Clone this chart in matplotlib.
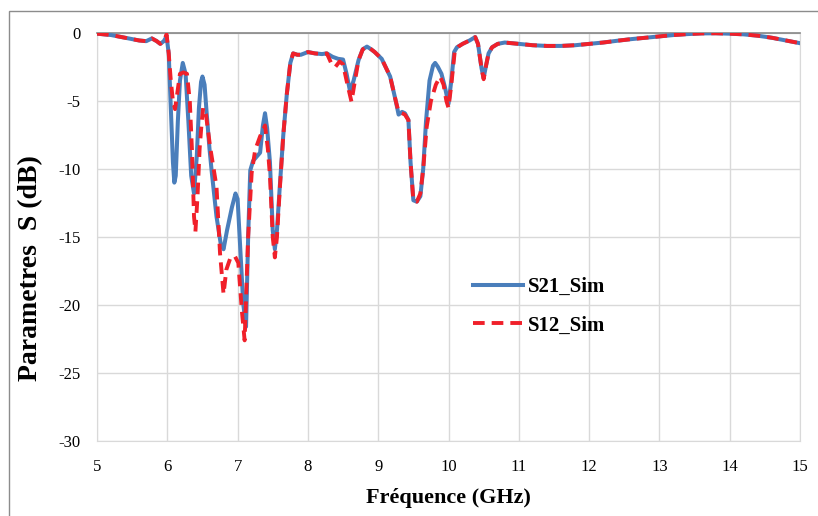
import matplotlib
matplotlib.use("Agg")
import matplotlib.pyplot as plt
from matplotlib.patches import Rectangle

plt.rcParams['font.family'] = ['Liberation Serif', 'DejaVu Serif']
plt.rcParams['axes.unicode_minus'] = False

# S21 simulated (frequency GHz, dB)
f_s21 = [5.0, 5.2, 5.4, 5.6, 5.7, 5.78, 5.85, 5.9, 5.95, 5.99,
         6.02, 6.05, 6.08, 6.1, 6.12, 6.15, 6.18, 6.22, 6.26, 6.3,
         6.34, 6.38, 6.42, 6.45, 6.48, 6.5, 6.53, 6.56, 6.6, 6.63,
         6.7, 6.76, 6.8, 6.85, 6.92, 6.97, 7.0, 7.04, 7.08, 7.12,
         7.15, 7.18, 7.22, 7.27, 7.32, 7.36, 7.39, 7.42, 7.46, 7.5,
         7.53, 7.56, 7.6, 7.65, 7.7, 7.75, 7.79, 7.85, 7.9, 8.0,
         8.1, 8.2, 8.27, 8.35, 8.43, 8.5, 8.55, 8.6, 8.65, 8.72,
         8.78, 8.84, 8.9, 8.95, 9.05, 9.17, 9.25, 9.29, 9.34, 9.38,
         9.43, 9.46, 9.5, 9.55, 9.6, 9.64, 9.68, 9.73, 9.78, 9.81,
         9.85, 9.9, 9.95, 10.0, 10.04, 10.08, 10.12, 10.2, 10.3, 10.38,
         10.42, 10.47, 10.5, 10.53, 10.57, 10.62, 10.7, 10.8, 11.0, 11.2,
         11.4, 11.6, 11.8, 12.0, 12.2, 12.4, 12.6, 12.8, 13.0, 13.2,
         13.4, 13.6, 13.8, 14.0, 14.2, 14.4, 14.6, 14.8, 15.0]
s21 = [-0.05, -0.15, -0.35, -0.55, -0.6, -0.4, -0.6, -0.8, -0.6, -0.25,
       -1.5, -5.5, -9.5, -11.0, -10.5, -6.5, -3.5, -2.2, -3.0, -6.5,
       -10.5, -11.8, -9.0, -5.5, -3.6, -3.2, -3.8, -5.9, -8.5, -10.1,
       -13.5, -15.5, -15.9, -14.5, -12.8, -11.8, -12.2, -16.0, -19.9, -21.6,
       -15.0, -10.1, -9.4, -9.1, -8.8, -6.8, -5.9, -7.0, -9.5, -14.5,
       -15.9, -14.5, -11.3, -7.5, -4.5, -2.2, -1.5, -1.6, -1.6, -1.4,
       -1.5, -1.55, -1.5, -1.75, -1.9, -1.95, -3.0, -4.3, -3.5, -2.0,
       -1.2, -1.0, -1.2, -1.4, -1.9, -3.2, -5.0, -6.0, -5.8, -5.9,
       -6.4, -9.5, -12.3, -12.4, -12.0, -10.0, -6.5, -3.5, -2.4, -2.2,
       -2.5, -3.0, -4.0, -5.2, -3.5, -1.4, -1.05, -0.8, -0.55, -0.3,
       -0.8, -2.6, -3.3, -2.5, -1.5, -1.05, -0.8, -0.7, -0.8, -0.9,
       -0.95, -0.95, -0.9, -0.8, -0.7, -0.57, -0.45, -0.35, -0.25, -0.15,
       -0.08, -0.03, -0.02, -0.05, -0.1, -0.2, -0.35, -0.55, -0.75]

# S12 simulated (frequency GHz, dB)
f_s12 = [5.0, 5.2, 5.4, 5.6, 5.7, 5.78, 5.85, 5.9, 5.95, 5.99,
         6.02, 6.05, 6.08, 6.11, 6.14, 6.18, 6.23, 6.28, 6.32, 6.35,
         6.38, 6.4, 6.43, 6.46, 6.49, 6.51, 6.55, 6.61, 6.7, 6.75,
         6.8, 6.84, 6.9, 6.96, 7.01, 7.06, 7.1, 7.15, 7.2, 7.25,
         7.32, 7.39, 7.43, 7.46, 7.5, 7.53, 7.56, 7.6, 7.65, 7.7,
         7.75, 7.79, 7.85, 7.9, 8.0, 8.1, 8.2, 8.27, 8.33, 8.39,
         8.45, 8.5, 8.55, 8.62, 8.66, 8.72, 8.78, 8.84, 8.9, 8.95,
         9.05, 9.17, 9.25, 9.29, 9.34, 9.38, 9.43, 9.46, 9.5, 9.55,
         9.6, 9.64, 9.69, 9.75, 9.82, 9.88, 9.93, 9.97, 10.0, 10.04,
         10.09, 10.14, 10.2, 10.3, 10.38, 10.42, 10.47, 10.5, 10.53, 10.57,
         10.62, 10.7, 10.8, 11.0, 11.2, 11.4, 11.6, 11.8, 12.0, 12.2,
         12.4, 12.6, 12.8, 13.0, 13.2, 13.4, 13.6, 13.8, 14.0, 14.2,
         14.4, 14.6, 14.8, 15.0]
s12 = [-0.05, -0.15, -0.35, -0.55, -0.6, -0.4, -0.6, -0.8, -0.6, -0.1,
       -1.5, -3.5, -5.0, -5.6, -4.5, -3.0, -2.9, -3.0, -5.0, -8.5,
       -13.5, -14.6, -12.0, -8.5, -6.5, -5.5, -6.0, -8.4, -11.3, -16.2,
       -19.2, -17.4, -16.5, -16.4, -16.9, -20.4, -22.6, -15.0, -10.3, -8.6,
       -7.6, -6.8, -8.5, -10.5, -15.0, -16.5, -15.0, -11.5, -7.5, -4.5,
       -2.2, -1.5, -1.6, -1.6, -1.4, -1.5, -1.55, -1.5, -2.2, -2.5,
       -2.1, -2.3, -3.5, -5.05, -3.8, -2.0, -1.2, -1.0, -1.2, -1.4,
       -1.9, -3.2, -5.0, -5.8, -5.9, -6.0, -6.4, -9.5, -12.3, -12.4,
       -11.8, -10.0, -6.9, -5.0, -3.8, -3.2, -3.8, -5.0, -5.5, -3.8,
       -1.3, -1.0, -0.8, -0.55, -0.3, -0.8, -2.6, -3.4, -2.5, -1.5,
       -1.05, -0.8, -0.7, -0.8, -0.9, -0.95, -0.95, -0.9, -0.8, -0.7,
       -0.57, -0.45, -0.35, -0.25, -0.15, -0.08, -0.03, -0.02, -0.05, -0.1,
       -0.2, -0.35, -0.55, -0.75]

x_ticks = [5, 6, 7, 8, 9, 10, 11, 12, 13, 14, 15]
y_ticks = [0, -5, -10, -15, -20, -25, -30]

fig = plt.figure(figsize=(8.18, 5.16), dpi=100)
ax = fig.add_axes([97 / 818, 1 - 441 / 516, 703 / 818, 408 / 516])

# outer chart frame (only top/left visible in the picture)
fig.patches.append(Rectangle((9 / 818, -0.05), 1.1, 1 - 11 / 516 + 0.05,
                             transform=fig.transFigure, fill=False,
                             edgecolor='#8c8c8c', linewidth=1.0))

ax.plot(f_s21, s21, color='#4a7ebb', linewidth=2.9, label='S21_Sim',
        solid_joinstyle='round', zorder=3)
ax.plot(f_s12, s12, color='#f0202a', linewidth=2.8, label='S12_Sim',
        dashes=(3.0, 1.8), zorder=4)

ax.set_xlim(5, 15)
ax.set_ylim(-30, 0)
ax.set_xticks(x_ticks)
ax.set_yticks(y_ticks)
ax.grid(True, color='#d9d9d9', linewidth=1.0)
ax.set_axisbelow(True)
ax.tick_params(axis='x', length=0, labelsize=12, pad=13)
ax.tick_params(axis='y', length=0, labelsize=12, pad=12)
for s in ['left', 'right', 'bottom']:
    ax.spines[s].set_color('#d9d9d9')
ax.spines['top'].set_color('#868686')
ax.spines['top'].set_linewidth(1.2)

ax.set_xlabel('Fréquence (GHz)', fontsize=16, fontweight='bold', labelpad=9)
ax.set_ylabel('Parametres  S (dB)', fontsize=20, fontweight='bold')
ax.yaxis.set_label_coords(-0.077, 0.424)

ax.legend(loc='upper left', bbox_to_anchor=(473 / 818, 1 - 277 / 516),
          bbox_transform=fig.transFigure, frameon=False,
          prop={'size': 15, 'weight': 'bold'}, handlelength=2.4,
          handletextpad=0.25, labelspacing=0.9, borderpad=0, borderaxespad=0)

fig.savefig('out.png', dpi=100)
